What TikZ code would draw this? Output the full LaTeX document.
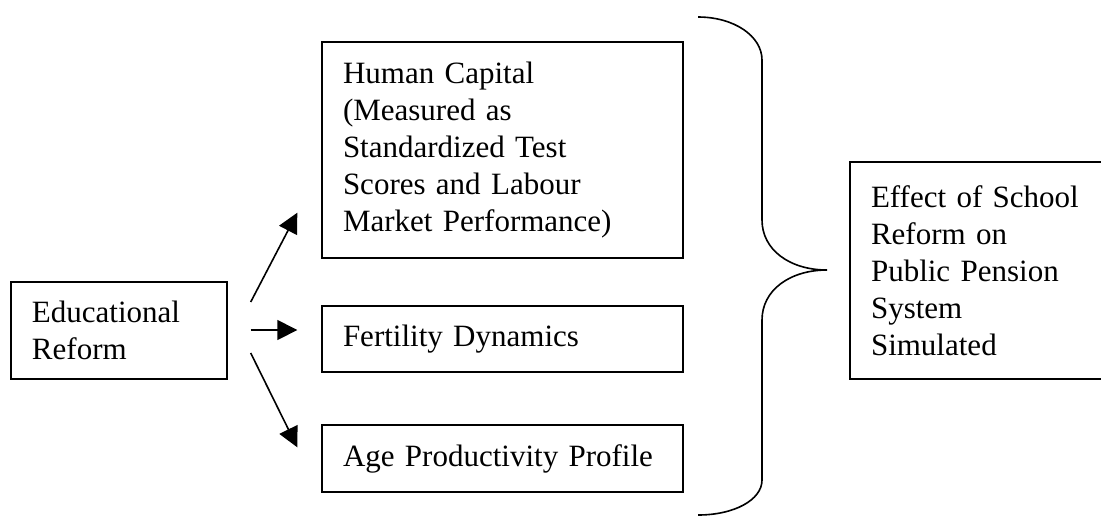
\documentclass[tikz,border=0pt]{standalone}
\usepackage{fontspec}
\setmainfont{Liberation Serif}
\usetikzlibrary{positioning,arrows.meta}

\begin{document}
\begin{tikzpicture}[node distance=80pt,
  txtbox/.style={draw,line width=0.7pt,align=left,inner xsep=10.5pt,inner ysep=0pt,
    font=\fontsize{15.5pt}{18.5pt}\selectfont},
  flow/.style={line width=0.8pt,-{Triangle[length=10pt,width=10pt]}}]
\useasboundingbox (0,0) rectangle (550.5pt,-258pt);
\node[txtbox,text width=87pt,minimum height=48.5pt] (edu) at (59.5pt,-165.25pt) {Educational\\Reform};
\node[txtbox,text width=159.5pt,minimum height=33pt] (fert) at (251.25pt,-169.5pt) {Fertility Dynamics};
\node[txtbox,text width=159.5pt,minimum height=108pt,node distance=94.5pt,above of=fert] (hc) {Human Capital\\(Measured as\\Standardized Test\\Scores and Labour\\Market Performance)};
\node[txtbox,text width=159.5pt,minimum height=33.5pt,node distance=59.75pt,below of=fert] (age) {Age Productivity Profile};
\node[txtbox,text width=106pt,minimum height=108.5pt] (eff) at (488.5pt,-135.25pt) {Effect of School\\Reform on\\Public Pension\\System\\Simulated};
% arrow ends
\coordinate (up0) at ([xshift=11.5pt,yshift=14.25pt]edu.east);
\coordinate (up1) at ([xshift=-12pt,yshift=23pt]hc.south west);
\coordinate (mid0) at ([xshift=11.5pt,yshift=0.25pt]edu.east);
\coordinate (mid1) at ([xshift=-12pt,yshift=4.5pt]fert.west);
\coordinate (dn0) at ([xshift=11.5pt,yshift=-11.25pt]edu.east);
\coordinate (dn1) at ([xshift=-12pt,yshift=-11.5pt]age.north west);
\draw[flow] (up0) -- (up1);
\draw[flow] (mid0) -- (mid1);
\draw[flow] (dn0) -- (dn1);
% brace
\coordinate (tip) at (413.5pt,-135pt);
\draw[line width=0.8pt] (349pt,-8.5pt) .. controls (367pt,-8.5pt) and (381pt,-18pt) .. (381pt,-30pt)
  -- (381pt,-110pt) .. controls (381pt,-125pt) and (395pt,-135pt) .. (tip)
  .. controls (395pt,-135pt) and (381pt,-145pt) .. (381pt,-160pt)
  -- (381pt,-240pt) .. controls (381pt,-250pt) and (367pt,-257.5pt) .. (349pt,-257.5pt);
\end{tikzpicture}
\end{document}
